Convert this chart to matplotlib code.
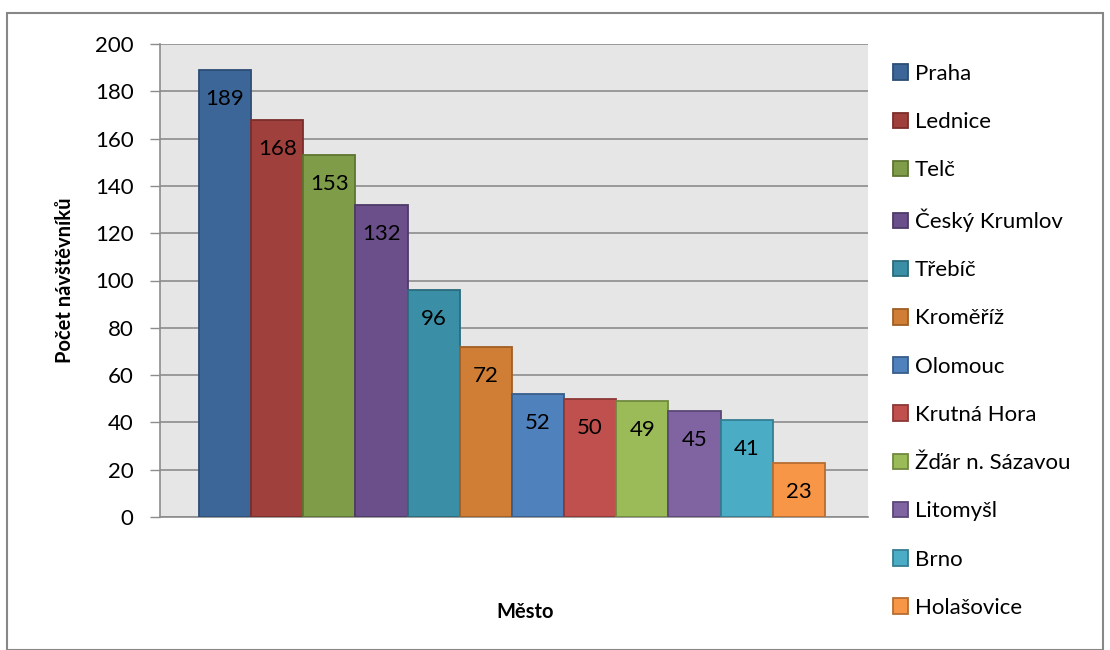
import matplotlib.pyplot as plt
import matplotlib.patches as patches

cities = ["Praha", "Lednice", "Telč", "Český Krumlov", "Třebíč", "Kroměříž",
          "Olomouc", "Krutná Hora", "Žďár n. Sázavou", "Litomyšl", "Brno", "Holašovice"]
visitors = [189, 168, 153, 132, 96, 72, 52, 50, 49, 45, 41, 23]
y_ticks = [0, 20, 40, 60, 80, 100, 120, 140, 160, 180, 200]

fills = ["#3D6698", "#A0403D", "#7F9C48", "#6A4F8B", "#3A8FA6", "#D07E36",
         "#4F81BD", "#C0504D", "#9BBB59", "#8064A2", "#4BACC6", "#F79646"]
edges = ["#2C4D75", "#7B2E2C", "#5E7530", "#4E3A68", "#2A6B7C", "#A05E25",
         "#385D8A", "#8C3836", "#71893F", "#5C4776", "#357D91", "#B66D31"]

plt.rcParams['font.family'] = ['Lato', 'DejaVu Sans']

W, H = 1110, 650
fig = plt.figure(figsize=(W / 100, H / 100), dpi=100)
fig.patch.set_facecolor("white")

# outer chart border
fig.patches.append(patches.Rectangle((7 / W, 0), 1096 / W, 637 / H, transform=fig.transFigure,
                                     fill=False, edgecolor="#878787", linewidth=1.5))

left, right, top, bottom = 160, 868, 44, 517
ax = fig.add_axes([left / W, 1 - bottom / H, (right - left) / W, (bottom - top) / H])
ax.set_facecolor("#E6E6E6")

bars = []
for i, (c, v) in enumerate(zip(cities, visitors)):
    b = ax.bar(i - 0.04, v, width=1.0, color=fills[i], edgecolor=edges[i], linewidth=1.3,
               label=c, zorder=3)
    bars.append(b)
    ax.annotate(str(v), (i - 0.04, v), xytext=(0, -21), textcoords="offset points",
                ha="center", va="center", fontsize=16, color="black", zorder=4)

margin = 41 / 52.2
ax.set_xlim(-0.5 - margin, len(cities) - 0.5 + margin)
ax.set_ylim(0, 200)
ax.set_yticks(y_ticks)
ax.set_xticks([])
ax.yaxis.grid(True, color="#8C8C8C", linewidth=1.2, zorder=0)
ax.tick_params(axis="y", length=7, width=1, color="#8C8C8C", labelsize=16, pad=12)
for s in ["top", "right"]:
    ax.spines[s].set_visible(False)
for s in ["left", "bottom"]:
    ax.spines[s].set_color("#8C8C8C")
    ax.spines[s].set_linewidth(1.2)

ax.set_ylabel("Počet návštěvníků", fontsize=14.5, fontweight="bold", labelpad=14)
fig.text(525 / W, 1 - 612 / H, "Město", fontsize=14.5, fontweight="bold", ha="center", va="center")

leg = fig.legend(handles=[b[0] for b in bars], labels=cities, loc="upper left",
                 bbox_to_anchor=(884 / W, 1 - 55 / H), frameon=False, fontsize=16,
                 handlelength=0.7, handleheight=0.7, handletextpad=0.3, labelspacing=1.27,
                 borderaxespad=0)

fig.savefig("out.png", dpi=100)
